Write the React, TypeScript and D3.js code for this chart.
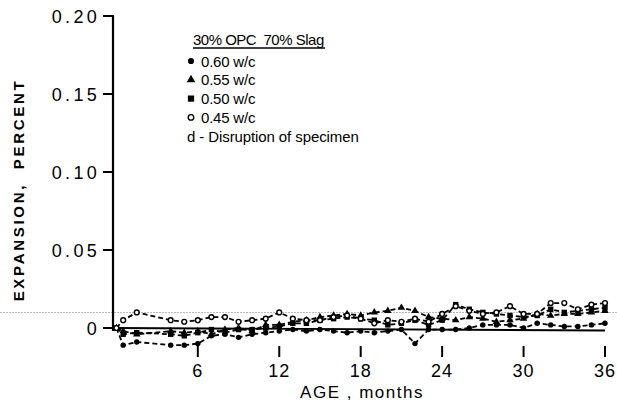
import React from "react";
import * as d3 from "d3";

const months = [0, 0.5, 1.5, 4, 5, 6, 7, 8, 9, 10, 11, 12, 13, 14, 15, 16, 17, 18, 19, 20, 21, 22, 23, 24, 25, 26, 27, 28, 29, 30, 31, 32, 33, 34, 35, 36];
// values in units of 0.001 percent
const wc060 = [0, -11, -9, -11, -11, -10, -5, -4, -6, -4, -3, -2, -1, -2, -1, -2, -3, -2, -3, -2, -1, -10, -1, -1, -1, 0, 2, 2, 2, 0, 3, 2, 1, 1, 2, 3];
const wc055 = [0, -2, -4, -2, -3, -2, -4, -1, 0, -2, 2, 2, 4, 5, 7, 8, 9, 8, 10, 11, 13, 11, 7, 6, 5, 7, 6, 4, 5, 6, 9, 8, 9, 9, 10, 11];
const wc050 = [0, -4, -3, -4, -5, -3, -1, -3, -1, -1, 0, 1, 3, 3, 5, 6, 7, 6, 5, 2, 3, 5, 2, 5, 15, 12, 10, 9, 8, 7, 8, 12, 10, 11, 12, 13];
const wc045 = [0, 5, 10, 5, 4, 5, 7, 7, 4, 5, 6, 10, 6, 5, 5, 7, 8, 6, 3, 5, 4, 6, 4, 9, 14, 11, 9, 10, 14, 9, 9, 16, 16, 12, 15, 16];

const yTicks = [0, 0.05, 0.1, 0.15, 0.2];
const yTickLabels = ["0", "0.05", "0.10", "0.15", "0.20"];
const xTicks = [6, 12, 18, 24, 30, 36];
const legendTitle = "30% OPC\u00a0\u00a070% Slag";
const legendLabels = ["0.60 w/c", "0.55 w/c", "0.50 w/c", "0.45 w/c"];
const legendNote = "d - Disruption of specimen";

type Series = { key: string; values: number[]; marker: string };
const series: Series[] = [
  { key: "060", values: wc060, marker: "circle" },
  { key: "055", values: wc055, marker: "triangle" },
  { key: "050", values: wc050, marker: "square" },
  { key: "045", values: wc045, marker: "open" },
];

const x = d3.scaleLinear().domain([-0.25, 36]).range([113, 605]);
const y = d3.scaleLinear().domain([0, 0.2]).range([328, 16]);

function Marker({ type, cx, cy, s = 1 }: { type: string; cx: number; cy: number; s?: number }) {
  if (type === "circle") return <circle cx={cx} cy={cy} r={2.7 * s} fill="#000" />;
  if (type === "open") return <circle cx={cx} cy={cy} r={2.4 * s} fill="#fff" stroke="#000" strokeWidth={1.4} />;
  if (type === "square") return <rect x={cx - 2.7 * s} y={cy - 2.7 * s} width={5.4 * s} height={5.4 * s} fill="#000" />;
  const p = d3.symbol(d3.symbolTriangle, 24 * s * s)();
  return <path d={p || ""} transform={`translate(${cx},${cy})`} fill="#000" />;
}

export default function App() {
  const font = "'Liberation Sans', Arial, Helvetica, sans-serif";
  const line = d3
    .line<number>()
    .x((_, i) => x(months[i]))
    .y((v) => y(v / 1000));
  return (
    <svg width={617} height={402} style={{ position: "absolute", left: 0, top: 0, background: "#fff" }} fontFamily={font}>
      <rect width={617} height={402} fill="#fff" />
      {/* scan artifact dotted line */}
      <line x1={0} x2={617} y1={312.5} y2={312.5} stroke="#bbb" strokeWidth={1} strokeDasharray="2,1" />
      {/* y axis */}
      <line x1={113} x2={113} y1={y(0.2) - 1} y2={y(0) + 3} stroke="#000" strokeWidth={2.2} />
      {yTicks.map((t, i) => (
        <g key={t}>
          <line x1={103} x2={113} y1={y(t)} y2={y(t)} stroke="#000" strokeWidth={2} />
          <text x={100} y={y(t) + 6.5} textAnchor="end" fontSize={18} letterSpacing={3.3}>
            {yTickLabels[i]}
          </text>
        </g>
      ))}
      <text
        transform={`translate(24,${y(0.1) + 18}) rotate(-90)`}
        textAnchor="middle"
        fontSize={15}
        fontWeight="bold"
        letterSpacing={2.7}
      >
        {"EXPANSION,\u00a0\u00a0PERCENT"}
      </text>
      {/* baseline */}
      <line x1={113} x2={x(36)} y1={y(0)} y2={y(0) + 2.5} stroke="#000" strokeWidth={1.8} />
      {/* x ticks */}
      {xTicks.map((t) => (
        <g key={t}>
          <line x1={x(t)} x2={x(t)} y1={346} y2={357} stroke="#000" strokeWidth={2} />
          <text x={x(t)} y={377} textAnchor="middle" fontSize={18} letterSpacing={1}>
            {t}
          </text>
        </g>
      ))}
      <text x={362} y={398} textAnchor="middle" fontSize={17} letterSpacing={1.5}>
        AGE , months
      </text>
      {/* series */}
      {series.map((s) => (
        <g key={s.key}>
          <path d={line(s.values) || ""} fill="none" stroke="#000" strokeWidth={1.8} strokeDasharray="5,3" />
          {s.values.map((v, i) => (
            <Marker key={i} type={s.marker} cx={x(months[i])} cy={y(v / 1000)} />
          ))}
        </g>
      ))}
      {/* legend */}
      <text x={193} y={45} fontSize={15} letterSpacing={-0.5}>
        {legendTitle}
      </text>
      <line x1={193} x2={325} y1={48} y2={48} stroke="#000" strokeWidth={1.3} />
      {legendLabels.map((l, i) => {
        const cy = 61 + i * 18.8;
        const type = series[i].marker;
        return (
          <g key={l}>
            <Marker type={type} cx={191} cy={cy} s={1.15} />
            <text x={201} y={cy + 5.5} fontSize={15} letterSpacing={-0.2}>
              {l}
            </text>
          </g>
        );
      })}
      <text x={187} y={142} fontSize={15} letterSpacing={-0.1}>
        {legendNote}
      </text>
    </svg>
  );
}
